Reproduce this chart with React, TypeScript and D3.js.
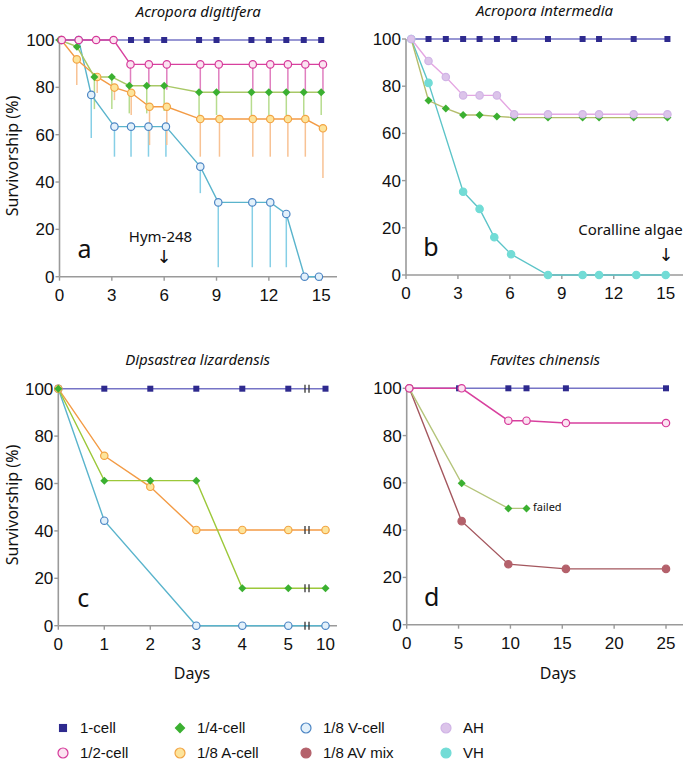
import * as d3 from 'd3';

// ---- panel a : Acropora digitifera ----
const aOneDays = [0.1, 1.1, 2.1, 3.1, 4.1, 5, 6, 8, 9, 11, 12, 13, 14, 15];
const aOneVals = [100, 100, 100, 100, 100, 100, 100, 100, 100, 100, 100, 100, 100, 100];
const aHalfDays = [0.13, 1.1, 2.1, 3.1, 4.07, 5.12, 6.15, 8.07, 9.13, 11.08, 12.08, 13.09, 14.09, 15.1];
const aHalfVals = [100, 100, 100, 100, 89.7, 89.7, 89.7, 89.7, 89.7, 89.7, 89.7, 89.7, 89.7, 89.7];
const aHalfLow = [null, null, null, null, 80.7, 80.7, 79, 78, 78, 78, 78, 78, 78, 78];
const aQuarterDays = [0, 1, 2, 3, 4, 5, 6, 8, 9, 11, 12, 13, 14, 15];
const aQuarterVals = [100, 97.2, 84.4, 84.4, 80.7, 80.7, 80.7, 77.9, 77.9, 77.9, 77.9, 77.9, 77.9, 77.9];
const aQuarterLow = [null, null, 70.8, 70.8, 69, 69, 70, 68.3, 68.3, 68.3, 68.3, 68.3, 68.3, 68.3];
const aADays = [0.1, 0.99, 2.16, 3.15, 4.11, 5.16, 6.15, 8.07, 9.17, 11.08, 12.08, 13.09, 14.09, 15.1];
const aAVals = [100, 91.8, 84.4, 79.9, 77.7, 71.8, 71.8, 66.6, 66.6, 66.6, 66.6, 66.6, 66.6, 62.7];
const aALow = [null, 81, 77.6, 74.6, 68.3, 55.6, 55.6, 50.7, 50.7, 50.7, 50.7, 50.7, 50.7, 41.7];
const aVDays = [0.1, 1.1, 1.82, 3.15, 4.1, 5.1, 6.1, 8.07, 9.1, 11.05, 12.08, 13.0, 14.05, 14.87];
const aVVals = [100, 100, 76.8, 63.4, 63.4, 63.4, 63.4, 46.5, 31.4, 31.4, 31.4, 26.5, 0, 0];
const aVLow = [null, null, 58.6, 50.7, 50.7, 50.7, 50.7, 35.3, 4, 4, 4, 4, null, null];

// ---- panel b : Acropora intermedia ----
const bDays = [0.3, 1.3, 2.3, 3.3, 4.25, 5.25, 6.25, 8.2, 10.2, 11.15, 13.15, 15.1];
const bOneVals = [100, 100, 100, 100, 100, 100, 100, 100, 100, 100, 100, 100];
const bAHVals = [100, 90.7, 83.9, 76.1, 76.1, 76.1, 68.1, 68.1, 68.1, 68.1, 68.1, 68.1];
const bQuarterVals = [100, 73.9, 70.6, 67.8, 67.8, 67.2, 66.7, 66.7, 66.7, 66.7, 66.7, 66.7];
const bVHDays = [0.3, 1.3, 3.3, 4.25, 5.1, 6.07, 8.2, 10.2, 11.15, 13.3, 15.0];
const bVHVals = [100, 81.4, 35.3, 28, 16, 8.8, 0, 0, 0, 0, 0];

// ---- panel c : Dipsastrea lizardensis ----
const cDays = [0, 1, 2, 3, 4, 5, 10];
const cOneVals = [100, 100, 100, 100, 100, 100, 100];
const cQuarterVals = [100, 61.2, 61.2, 61.2, 15.8, 15.8, 15.8];
const cAVals = [100, 71.7, 58.6, 40.4, 40.4, 40.4, 40.4];
const cVDays = [0, 1, 3, 4, 5, 10];
const cVVals = [100, 44.3, 0, 0, 0, 0];

// ---- panel d : Favites chinensis ----
const dOneDays = [0.25, 5.05, 9.8, 11.55, 15.35, 25];
const dOneVals = [100, 100, 100, 100, 100, 100];
const dHalfDays = [0.25, 5.3, 9.8, 11.55, 15.35, 25];
const dHalfVals = [100, 100, 86.3, 86.3, 85.3, 85.3];
const dQuarterDays = [0.25, 5.3, 9.8, 11.55];
const dQuarterVals = [100, 59.8, 49.2, 49.2];
const dAVDays = [0.25, 5.3, 9.8, 15.35, 25];
const dAVVals = [100, 43.8, 25.6, 23.6, 23.6];

const yTicks = [0, 20, 40, 60, 80, 100];
const ticks15 = [0, 3, 6, 9, 12, 15];
const ticksC = [0, 1, 2, 3, 4, 5, 10];
const ticks25 = [0, 5, 10, 15, 20, 25];

const legendRows = [
  ['one', '1-cell', 'quarter', '1/4-cell', 'V', '1/8 V-cell', 'AH', 'AH'],
  ['half', '1/2-cell', 'A', '1/8 A-cell', 'AV', '1/8 AV mix', 'VH', 'VH'],
];

const FONT = "'Noto Sans', sans-serif";
const NUM = "'Liberation Sans', Arial, sans-serif";

type Style = { line: string; shape: 'square' | 'circle' | 'diamond'; fill: string; stroke: string; err?: string };
const styles: Record<string, Style> = {
  one: { line: '#7674c6', shape: 'square', fill: '#2e2a8e', stroke: '#2e2a8e' },
  half: { line: '#d8409e', shape: 'circle', fill: '#fbe3f1', stroke: '#d6399a', err: '#e07fbf' },
  quarter: { line: '#a8c866', shape: 'diamond', fill: '#3bb031', stroke: '#3bb031', err: '#b7dc8e' },
  A: { line: '#f39b45', shape: 'circle', fill: '#fde49b', stroke: '#f2a444', err: '#f8c294' },
  V: { line: '#5ab4cc', shape: 'circle', fill: '#e3f1fb', stroke: '#4d86c4', err: '#86cfe6' },
  AV: { line: '#a4575e', shape: 'circle', fill: '#b4616b', stroke: '#b4616b' },
  AH: { line: '#e4a6e2', shape: 'circle', fill: '#dcc4ea', stroke: '#d0b4e6' },
  VH: { line: '#5cc4c8', shape: 'circle', fill: '#72dcd6', stroke: '#72dcd6' },
};

type Series = { key: string; days: number[]; vals: number[]; low?: (number | null)[]; lineColor?: string };

type PanelCfg = {
  title: string;
  letter: string;
  xDomain: number[];
  xRange: number[];
  axisEnd: number;
  yTop: number;
  yBottom: number;
  xTicks: number[];
  series: Series[];
  breakAt?: number;
};

const panels: PanelCfg[] = [
  {
    title: 'Acropora digitifera', letter: 'a',
    xDomain: [0, 15], xRange: [59.5, 321.2], axisEnd: 337, yTop: 40, yBottom: 276.7, xTicks: ticks15,
    series: [
      { key: 'one', days: aOneDays, vals: aOneVals },
      { key: 'V', days: aVDays, vals: aVVals, low: aVLow },
      { key: 'A', days: aADays, vals: aAVals, low: aALow },
      { key: 'quarter', days: aQuarterDays, vals: aQuarterVals, low: aQuarterLow },
      { key: 'half', days: aHalfDays, vals: aHalfVals, low: aHalfLow },
    ],
  },
  {
    title: 'Acropora intermedia', letter: 'b',
    xDomain: [0, 15], xRange: [406, 665.7], axisEnd: 683, yTop: 39, yBottom: 275, xTicks: ticks15,
    series: [
      { key: 'one', days: bDays, vals: bOneVals },
      { key: 'VH', days: bVHDays, vals: bVHVals },
      { key: 'quarter', days: bDays, vals: bQuarterVals, lineColor: '#b4bd6c' },
      { key: 'AH', days: bDays, vals: bAHVals },
    ],
  },
  {
    title: 'Dipsastrea lizardensis', letter: 'c',
    xDomain: [0, 5, 10], xRange: [58.3, 288.3, 325.5], axisEnd: 337, yTop: 388.7, yBottom: 625.7, xTicks: ticksC,
    breakAt: 307,
    series: [
      { key: 'one', days: cDays, vals: cOneVals },
      { key: 'V', days: cVDays, vals: cVVals },
      { key: 'A', days: cDays, vals: cAVals },
      { key: 'quarter', days: cDays, vals: cQuarterVals, lineColor: '#9cc83a' },
    ],
  },
  {
    title: 'Favites chinensis', letter: 'd',
    xDomain: [0, 25], xRange: [406.7, 666], axisEnd: 683, yTop: 388.3, yBottom: 624.7, xTicks: ticks25,
    series: [
      { key: 'one', days: dOneDays, vals: dOneVals },
      { key: 'AV', days: dAVDays, vals: dAVVals },
      { key: 'quarter', days: dQuarterDays, vals: dQuarterVals, lineColor: '#b4c47a' },
      { key: 'half', days: dHalfDays, vals: dHalfVals },
    ],
  },
];

function Marker({ shape, cx, cy, fill, stroke, s = 1 }: { shape: string; cx: number; cy: number; fill: string; stroke: string; s?: number }) {
  if (shape === 'square') {
    const h = 3 * s;
    return <rect x={cx - h} y={cy - h} width={2 * h} height={2 * h} fill={fill} />;
  }
  if (shape === 'diamond') {
    const h = 4 * s;
    return <path d={`M${cx},${cy - h}L${cx + h},${cy}L${cx},${cy + h}L${cx - h},${cy}Z`} fill={fill} />;
  }
  return <circle cx={cx} cy={cy} r={3.7 * s} fill={fill} stroke={stroke} strokeWidth={1.2} />;
}

function Panel({ cfg }: { cfg: PanelCfg }) {
  const x = d3.scaleLinear().domain(cfg.xDomain).range(cfg.xRange);
  const y = d3.scaleLinear().domain([0, 100]).range([cfg.yBottom, cfg.yTop]);
  const line = d3.line<[number, number]>().x(d => x(d[0])).y(d => y(d[1]));
  const x0 = cfg.xRange[0];
  const cx = (x0 + cfg.axisEnd) / 2;
  const axisColor = '#9a9a9a';
  return (
    <g>
      <text x={cx} y={cfg.yTop - 23.5} textAnchor="middle" fontFamily={FONT} fontStyle="italic" fontSize={15} fill="#111">
        {cfg.title}
      </text>
      {/* axes */}
      <line x1={x0} x2={cfg.axisEnd} y1={cfg.yBottom} y2={cfg.yBottom} stroke={axisColor} strokeWidth={1.6} />
      <line x1={x0} x2={x0} y1={cfg.yTop} y2={cfg.yBottom} stroke={axisColor} strokeWidth={1.6} />
      {yTicks.map(t => (
        <g key={'y' + t}>
          <line x1={x0 - 4} x2={x0} y1={y(t)} y2={y(t)} stroke={axisColor} strokeWidth={1.4} />
          <text x={x0 - 5} y={y(t) + 6} textAnchor="end" fontFamily={NUM} fontSize={17} fill="#111">{t}</text>
        </g>
      ))}
      {cfg.xTicks.map(t => (
        <g key={'x' + t}>
          <line x1={x(t)} x2={x(t)} y1={cfg.yBottom} y2={cfg.yBottom + 4} stroke={axisColor} strokeWidth={1.4} />
          <text x={x(t)} y={cfg.yBottom + 24} textAnchor="middle" fontFamily={NUM} fontSize={17} fill="#111">{t}</text>
        </g>
      ))}
      {/* error bars */}
      {cfg.series.map(s => s.low ? s.low.map((lo, i) => lo == null ? null : (
        <line key={s.key + 'e' + i} x1={x(s.days[i])} x2={x(s.days[i])} y1={y(s.vals[i])} y2={y(lo)}
          stroke={styles[s.key].err} strokeWidth={1.5} />
      )) : null)}
      {/* lines */}
      {cfg.series.map(s => (
        <path key={s.key + 'l'} d={line(s.days.map((d, i) => [d, s.vals[i]] as [number, number])) || ''}
          fill="none" stroke={s.lineColor || styles[s.key].line} strokeWidth={1.4} />
      ))}
      {/* break marks */}
      {cfg.breakAt != null && cfg.series.map(s => {
        const v = s.vals[s.vals.length - 1];
        return (
          <g key={s.key + 'b'}>
            <line x1={cfg.breakAt! - 2} x2={cfg.breakAt! - 2} y1={y(v) - 4} y2={y(v) + 4} stroke="#333" strokeWidth={1.3} />
            <line x1={cfg.breakAt! + 2} x2={cfg.breakAt! + 2} y1={y(v) - 4} y2={y(v) + 4} stroke="#333" strokeWidth={1.3} />
          </g>
        );
      })}
      {/* markers */}
      {cfg.series.map(s => s.days.map((d, i) => (
        <Marker key={s.key + 'm' + i} shape={styles[s.key].shape} cx={x(d)} cy={y(s.vals[i])}
          fill={styles[s.key].fill} stroke={styles[s.key].stroke} />
      )))}
      <text x={x0 + 25} y={cfg.yBottom - 19} textAnchor="middle" fontFamily={FONT} fontSize={25} fill="#111">{cfg.letter}</text>
    </g>
  );
}

export default function App() {
  return (
    <svg width={685} height={760} style={{ position: 'absolute', left: 0, top: 0, background: '#fff' }}>
      {panels.map(p => <Panel key={p.letter} cfg={p} />)}
      {/* annotations */}
      <text x={160.5} y={242} textAnchor="middle" fontFamily={FONT} fontSize={15} fill="#111">Hym-248</text>
      <text x={164} y={263} textAnchor="middle" fontFamily="'DejaVu Sans', sans-serif" fontSize={18} fill="#111">↓</text>
      <text x={630.5} y={235} textAnchor="middle" fontFamily={FONT} fontSize={15} fill="#111">Coralline algae</text>
      <text x={666} y={261} textAnchor="middle" fontFamily="'DejaVu Sans', sans-serif" fontSize={18} fill="#111">↓</text>
      <text x={533} y={511} fontFamily={FONT} fontSize={11} fill="#111">failed</text>
      {/* axis titles */}
      <text transform="translate(18,156) rotate(-90)" textAnchor="middle" fontFamily={FONT} fontSize={16} fill="#111">Survivorship (%)</text>
      <text transform="translate(18,505) rotate(-90)" textAnchor="middle" fontFamily={FONT} fontSize={16} fill="#111">Survivorship (%)</text>
      <text x={192} y={679} textAnchor="middle" fontFamily={FONT} fontSize={16} fill="#111">Days</text>
      <text x={558} y={679} textAnchor="middle" fontFamily={FONT} fontSize={16} fill="#111">Days</text>
      {/* legend */}
      {legendRows.map((row, r) => {
        const yy = 728 + r * 25;
        const cols = [63, 180, 306, 446];
        return cols.map((cx, c) => {
          const key = row[c * 2];
          const st = styles[key];
          return (
            <g key={'lg' + r + c}>
              <Marker shape={st.shape} cx={cx} cy={yy} fill={st.fill} stroke={st.stroke} s={1.35} />
              <text x={cx + 17} y={yy + 5} fontFamily={NUM} fontSize={15} fill="#111">{row[c * 2 + 1]}</text>
            </g>
          );
        });
      })}
    </svg>
  );
}
